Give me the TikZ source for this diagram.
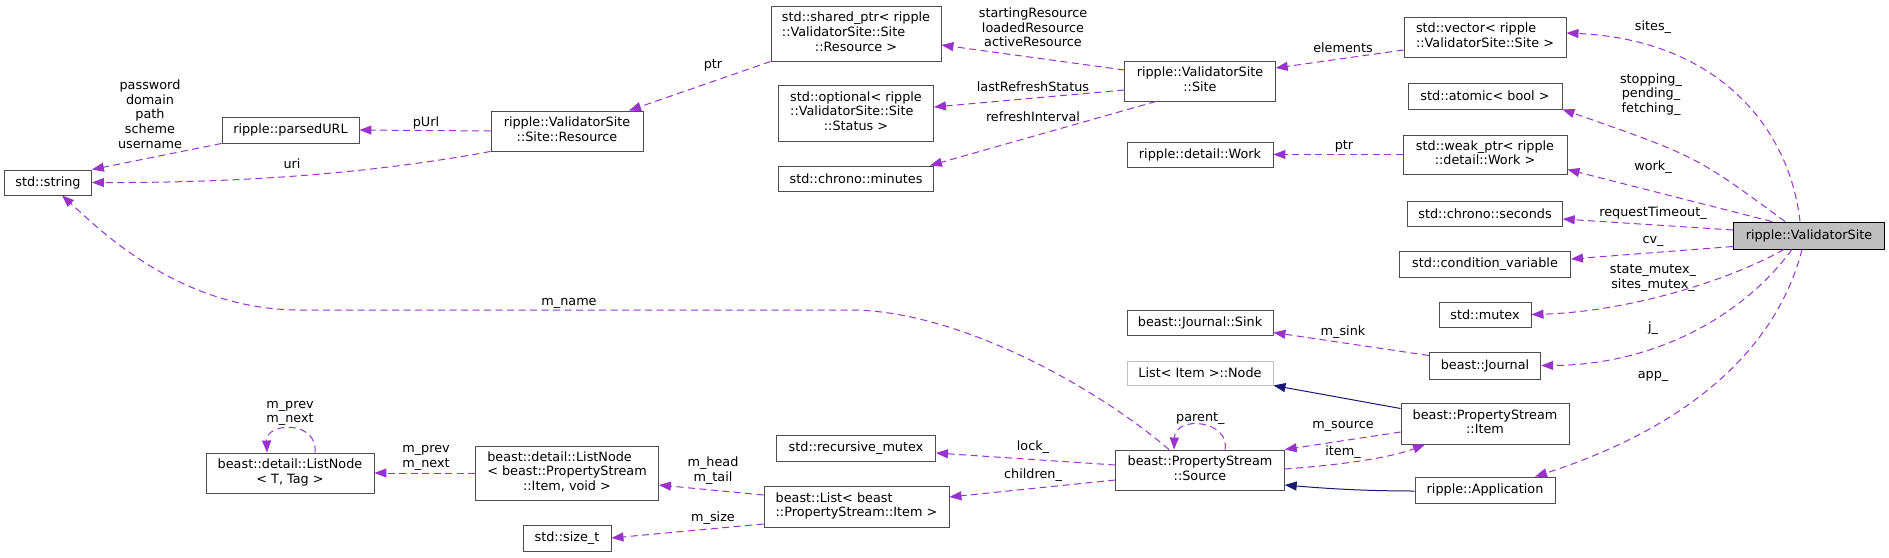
\documentclass[tikz,border=0pt]{standalone}
\usepackage{fontspec}
\setmainfont{DejaVu Sans}
\usepackage{tikz}
\usetikzlibrary{arrows.meta}
\definecolor{memb}{HTML}{9A32CD}
\definecolor{inhr}{HTML}{191970}
\definecolor{frame}{HTML}{4D4D4D}
\definecolor{grayfill}{HTML}{BFBFBF}
% first lines left, last line centred (as dot does with \l)
\newcommand{\lns}[2]{\begin{tabular}{@{}l@{}}#1\\\multicolumn{1}{@{}c@{}}{#2}\end{tabular}}

\begin{document}
\begin{tikzpicture}[x=1pt, y=-1pt,
  box/.style={draw=frame, fill=white, line width=0.9pt, inner sep=0pt, align=center, font=\fontsize{12.8}{14.6}\selectfont},
  main/.style={box, draw=black, fill=grayfill},
  ghost/.style={box, draw=grayfill},
  sz/.style 2 args={minimum width=#1, minimum height=#2},
  lbl/.style={inner sep=0pt, align=center, font=\fontsize{12.8}{14.6}\selectfont},
  mem/.style={-{Triangle[length=12pt,width=9pt]}, draw=memb, line width=1pt, dash pattern=on 7pt off 4.5pt},
  inh/.style={-{Triangle[length=12pt,width=9pt]}, draw=inhr, line width=1pt}]
\fill[white] (0,0) rectangle (1889,557);
\useasboundingbox (0,0) rectangle (1889,557);

% classes
\node[box, sz={87pt}{25pt}] (str) at (48,182.5) {std::string};
\node[box, sz={137pt}{26pt}] (pu) at (290.5,130) {ripple::parsedURL};
\node[box, sz={152pt}{40pt}] (res) at (567,131) {\lns{ripple::ValidatorSite}{::Site::Resource}};
\node[box, sz={168pt}{40pt}] (ln1) at (290,473) {\lns{beast::detail::ListNode}{< T, Tag >}};
\node[box, sz={183pt}{54pt}] (ln2) at (567,473) {\lns{beast::detail::ListNode\\< beast::PropertyStream}{::Item, void >}};
\node[box, sz={88pt}{26pt}] (szt) at (567,538) {std::size\_t};
\node[box, sz={170pt}{55pt}] (shp) at (856,33.5) {\lns{std::shared\_ptr< ripple\\::ValidatorSite::Site}{::Resource >}};
\node[box, sz={155pt}{56pt}] (opt) at (856,113) {\lns{std::optional< ripple\\::ValidatorSite::Site}{::Status >}};
\node[box, sz={155pt}{25pt}] (mins) at (856,178.5) {std::chrono::minutes};
\node[box, sz={159pt}{26pt}] (rmx) at (856,448) {std::recursive\_mutex};
\node[box, sz={185pt}{41pt}] (lst) at (856.5,506.5) {\lns{beast::List< beast}{::PropertyStream::Item >}};
\node[box, sz={150.5pt}{40pt}] (site) at (1200,81) {\lns{ripple::ValidatorSite}{::Site}};
\node[box, sz={146pt}{25pt}] (work) at (1200,154.5) {ripple::detail::Work};
\node[box, sz={146pt}{25pt}] (sink) at (1200,322.5) {beast::Journal::Sink};
\node[ghost, sz={146pt}{24pt}] (lnode) at (1200,373) {List< Item >::Node};
\node[box, sz={168.5pt}{40pt}] (src) at (1200,470) {\lns{beast::PropertyStream}{::Source}};
\node[box, sz={162pt}{40pt}] (vec) at (1485,37) {\lns{std::vector< ripple}{::ValidatorSite::Site >}};
\node[box, sz={154pt}{26pt}] (atm) at (1485,96) {std::atomic< bool >};
\node[box, sz={164pt}{39pt}] (wp) at (1485,154.5) {\lns{std::weak\_ptr< ripple}{::detail::Work >}};
\node[box, sz={154.5pt}{25pt}] (sec) at (1485,213.5) {std::chrono::seconds};
\node[box, sz={171pt}{26pt}] (cvar) at (1485,264) {std::condition\_variable};
\node[box, sz={92pt}{25pt}] (mtx) at (1485,314.5) {std::mutex};
\node[box, sz={111.5pt}{27pt}] (jrn) at (1485,365.5) {beast::Journal};
\node[box, sz={168pt}{41pt}] (itm) at (1485,423.5) {\lns{beast::PropertyStream}{::Item}};
\node[box, sz={140pt}{26pt}] (app) at (1485,490) {ripple::Application};
\node[main, sz={151.5pt}{27pt}] (vs) at (1809,235.5) {ripple::ValidatorSite};

% edge labels
\node[lbl] (lUser) at (150,114.2) {password\\domain\\path\\scheme\\username};
\node[lbl] (lUrl) at (426,122.7) {pUrl};
\node[lbl] (lUri) at (292,163.3) {uri};
\node[lbl] (lPtrA) at (713,65) {ptr};
\node[lbl] (lRes) at (1033,27.6) {startingResource\\loadedResource\\activeResource};
\node[lbl] (lStat) at (1033,86.7) {lastRefreshStatus};
\node[lbl] (lIntv) at (1033,116.7) {refreshInterval};
\node[lbl] (lElem) at (1343,47.3) {elements};
\node[lbl] (lPtrB) at (1344,146.7) {ptr};
\node[lbl] (lSites) at (1653,26.7) {sites\_};
\node[lbl] (lFlags) at (1651,94.3) {stopping\_\\pending\_\\fetching\_};
\node[lbl] (lWork) at (1653,167.3) {work\_};
\node[lbl] (lTime) at (1653,212.7) {requestTimeout\_};
\node[lbl] (lCv) at (1653,241.7) {cv\_};
\node[lbl] (lMtx) at (1653,277.8) {state\_mutex\_\\sites\_mutex\_};
\node[lbl] (lJ) at (1653,328.3) {j\_};
\node[lbl] (lApp) at (1653,376) {app\_};
\node[lbl] (lSink) at (1343,331.7) {m\_sink};
\node[lbl] (lSrc) at (1343,426.7) {m\_source};
\node[lbl] (lItem) at (1343,451.7) {item\_};
\node[lbl] (lName) at (569,303.3) {m\_name};
\node[lbl] (lPar) at (1200.4,418.3) {parent\_};
\node[lbl] (lLock) at (1033,446.7) {lock\_};
\node[lbl] (lChild) at (1033,475) {children\_};
\node[lbl] (lHead) at (713,470.8) {m\_head\\m\_tail};
\node[lbl] (lSize) at (713,518.3) {m\_size};
\node[lbl] (lLoop) at (290,413.5) {m\_prev\\m\_next};
\node[lbl] (lLink) at (426,457.8) {m\_prev\\m\_next};

% members of ValidatorSite
\draw[mem] ([xshift=-9pt]vs.north) .. controls (1790,130) and (1720,40) .. ([yshift=4pt]vec.east);
\draw[mem] ([xshift=-24pt]vs.north) .. controls (1696,156) .. (atm.south east);
\draw[mem] ([xshift=-37pt]vs.north) -- ([yshift=-15pt]wp.east);
\draw[mem] ([yshift=5.5pt]vs.west) -- ([yshift=-5.5pt]sec.east);
\draw[mem] ([yshift=-11pt]vs.west) -- ([yshift=5pt]cvar.east);
\draw[mem] ([xshift=-25pt]vs.south) .. controls (1720,285) and (1620,312) .. (mtx.east);
\draw[mem] ([xshift=-17pt]vs.south) .. controls (1740,320) and (1650,365) .. (jrn.east);
\draw[mem] ([xshift=-7pt]vs.south) .. controls (1775,355) and (1680,430) .. ([xshift=50pt]app.north);

% site and resource
\draw[mem] ([yshift=-13pt]vec.west) -- ([yshift=13pt]site.east);
\draw[mem] ([yshift=11pt]site.west) -- ([yshift=-11.5pt]shp.east);
\draw[mem] ([yshift=-9pt]site.west) -- ([yshift=6pt]opt.east);
\draw[mem] ([xshift=-44pt]site.south) -- ([xshift=-4pt]mins.north east);
\draw[mem] (shp.south west) -- ([xshift=62pt]res.north);
\draw[mem] (res.west) -- (pu.east);
\draw[mem] (res.south west) .. controls (380,172) and (250,183) .. (str.east);
\draw[mem] (pu.south west) -- (str.north east);
\draw[mem] (wp.west) -- (work.east);
\draw[mem] ([yshift=10pt]jrn.west) -- ([yshift=-10pt]sink.east);

% property stream
\draw[mem] ([xshift=-31pt]src.north) .. controls (1100,390) and (960,310) .. (850,310) -- (300,310) .. controls (180,310) and (100,230) .. ([xshift=14pt]str.south);
\draw[mem] ([xshift=25pt]src.north) .. controls (1230,420) and (1175,415) .. ([xshift=-26pt]src.north);
\draw[mem] ([yshift=5pt]src.west) -- ([yshift=-5pt]rmx.east);
\draw[mem] ([yshift=-10pt]src.west) -- ([yshift=9.5pt]lst.east);
\draw[mem] ([yshift=11.5pt]lst.west) -- ([yshift=-12pt]ln2.east);
\draw[mem] ([yshift=-17.5pt]lst.west) -- (szt.east);
\draw[mem] (ln2.west) -- (ln1.east);
\draw[mem] ([xshift=25pt]ln1.north) .. controls (318,420) and (266,422) .. ([xshift=-23pt]ln1.north);
\draw[mem] ([yshift=-8.5pt]itm.west) -- (src.north east);
\draw[mem] ([yshift=1pt]src.east) .. controls (1340,465) and (1390,458) .. ([xshift=-60pt]itm.south);
\draw[inh] ([yshift=15pt]itm.west) -- (lnode.south east);
\draw[inh] ([yshift=-1pt]app.west) .. controls (1360,491) and (1320,488) .. ([yshift=-15pt]src.east);
\end{tikzpicture}
\end{document}
